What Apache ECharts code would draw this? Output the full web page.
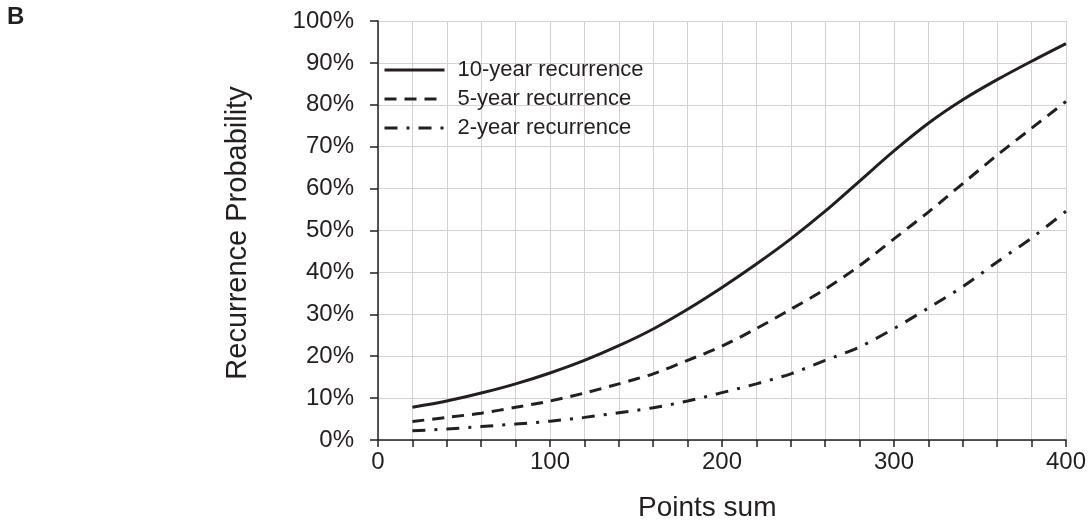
<!DOCTYPE html>
<html>
<head>
<meta charset="utf-8">
<script src="https://cdn.jsdelivr.net/npm/echarts@6/dist/echarts.min.js"></script>
<style>
html,body{margin:0;padding:0;background:#fff;}
#chart{width:1089px;height:523px;}
</style>
</head>
<body>
<div id="chart"></div>
<script>
const pointsSum = [20,40,60,80,100,120,140,160,180,200,220,240,260,280,300,320,340,360,380,400];
const tenYear  = [7.8,9.3,11.2,13.4,16.0,19.0,22.5,26.5,31.2,36.4,42.0,48.0,54.6,61.8,69.0,75.6,81.2,86.0,90.4,94.6];
const fiveYear = [4.4,5.4,6.4,7.8,9.3,11.2,13.4,15.8,19.0,22.4,26.6,31.2,36.0,41.6,48.0,54.4,61.2,68.0,74.4,80.8];
const twoYear  = [2.2,2.6,3.2,3.8,4.5,5.4,6.5,7.7,9.3,11.3,13.4,15.8,19.0,22.2,26.6,31.5,36.6,42.5,48.2,54.6];
const seriesNames = ['10-year recurrence','5-year recurrence','2-year recurrence'];
const xTickLabels = ['0','100','200','300','400'];
const yTickLabels = ['0%','10%','20%','30%','40%','50%','60%','70%','80%','90%','100%'];
const xTitle = 'Points sum';
const yTitle = 'Recurrence Probability';
const panelLabel = 'B';

const FONT = "'Liberation Sans', Arial, Helvetica, sans-serif";
const INK = '#231f20';

function pairs(xs, ys){ return xs.map((x,i)=>[x, ys[i]]); }

const chart = echarts.init(document.getElementById('chart'));
chart.setOption({
  animation:false,
  textStyle:{fontFamily:FONT},
  grid:{left:378,right:23,top:21,bottom:83,containLabel:false},
  legend:{
    orient:'vertical', left:383, top:59, padding:0, itemGap:7, itemWidth:60, itemHeight:14,
    itemStyle:{opacity:0},
    lineStyle:{width:3},
    textStyle:{fontSize:22,color:INK,fontFamily:FONT,padding:[0,0,0,8]},
    data:seriesNames
  },
  xAxis:{
    type:'value', min:0, max:400, interval:20,
    axisLine:{show:true,onZero:false,lineStyle:{color:INK,width:1.5}},
    axisTick:{show:true,length:7,lineStyle:{color:INK,width:1.5}},
    splitLine:{show:true,lineStyle:{color:'#d2d2d2',width:1}},
    axisLabel:{fontSize:24,color:INK,margin:10,fontFamily:FONT,
      formatter:function(v){ const i = xTickLabels.indexOf(String(v)); return i>=0 ? xTickLabels[i] : ''; }}
  },
  yAxis:{
    type:'value', min:0, max:100, interval:10,
    axisLine:{show:true,lineStyle:{color:INK,width:1.5}},
    axisTick:{show:true,length:8,lineStyle:{color:INK,width:1.5}},
    splitLine:{show:true,lineStyle:{color:'#d2d2d2',width:1}},
    axisLabel:{fontSize:24,color:INK,margin:24,fontFamily:FONT,
      formatter:function(v){ return yTickLabels[Math.round(v/10)]; }}
  },
  graphic:[
    {type:'text', left:7, top:5, style:{text:panelLabel, font:'bold 24px '+FONT, fill:INK}},
    {type:'text', left:638, top:494, style:{text:xTitle, font:'28px '+FONT, fill:INK}},
    {type:'text', x:238, y:233, rotation:Math.PI/2, style:{text:yTitle, font:'29px '+FONT, fill:INK, align:'center', verticalAlign:'middle'}}
  ],
  series:[
    {name:seriesNames[0], type:'line', data:pairs(pointsSum,tenYear), smooth:0.3, symbol:'none',
      lineStyle:{color:INK,width:3,type:'solid'}, itemStyle:{color:INK}},
    {name:seriesNames[1], type:'line', data:pairs(pointsSum,fiveYear), smooth:0.3, symbol:'none',
      lineStyle:{color:INK,width:3,type:[12,8]}, itemStyle:{color:INK}},
    {name:seriesNames[2], type:'line', data:pairs(pointsSum,twoYear), smooth:0.3, symbol:'none',
      lineStyle:{color:INK,width:3,type:[13,9,3,9]}, itemStyle:{color:INK}}
  ]
});
</script>
</body>
</html>
